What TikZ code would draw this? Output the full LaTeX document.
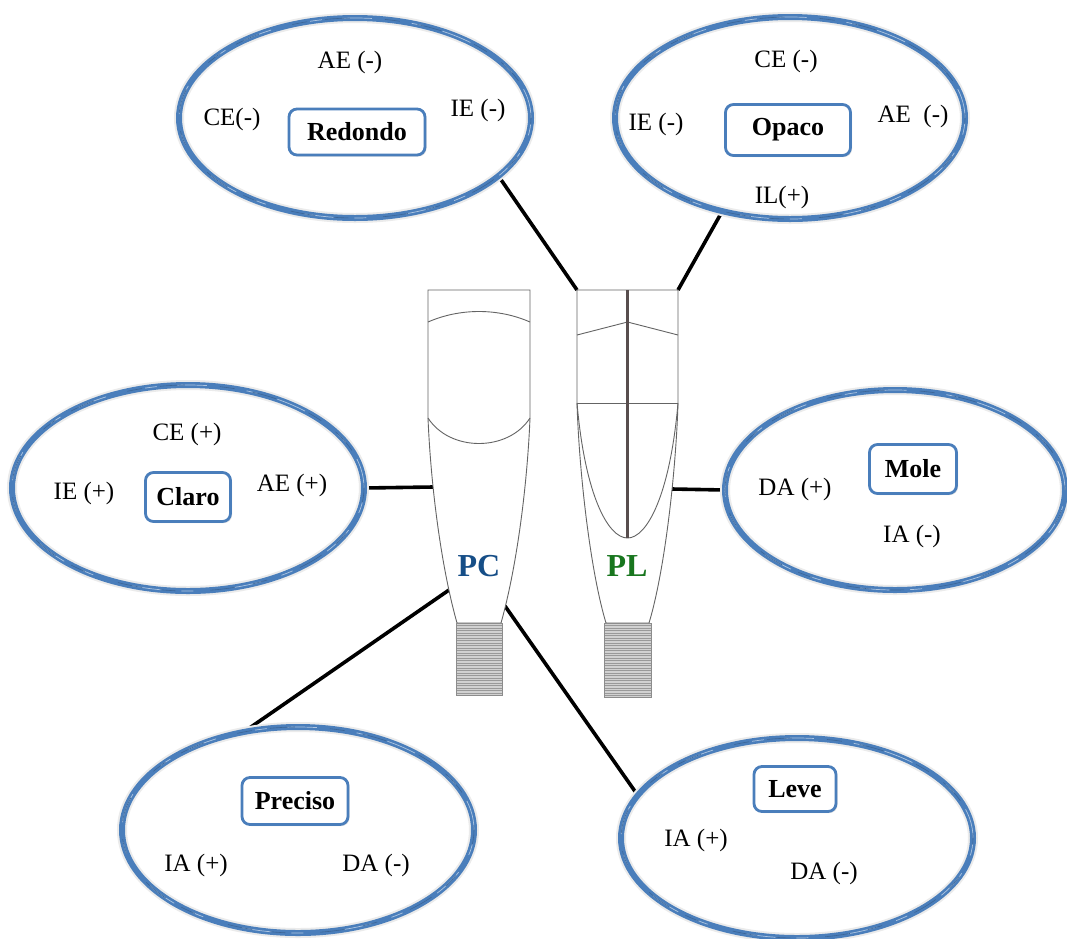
\documentclass[tikz,border=0pt]{standalone}
\usepackage{fontspec}
\setmainfont{Liberation Serif}
\usetikzlibrary{shapes.geometric,backgrounds,shadows}
\definecolor{ringblue}{RGB}{74,126,187}
\definecolor{pcblue}{RGB}{22,78,135}
\definecolor{plgreen}{RGB}{24,118,30}
\definecolor{reedgray}{RGB}{100,100,100}
\definecolor{spine}{RGB}{88,78,78}
\begin{document}
\begin{tikzpicture}[x=1pt,y=-1pt,
  ring/.style 2 args={ellipse, inner sep=0pt, outer sep=0pt,
    minimum width=#1pt, minimum height=#2pt,
    preaction={draw=black!8, line width=10pt},
    draw=ringblue, line width=6pt,
    postaction={draw=ringblue!45!white, line width=0.7pt,
      dash pattern=on 30pt off 20pt on 12pt off 40pt},
    postaction={draw=ringblue!80!black, line width=0.6pt,
      dash pattern=on 15pt off 35pt on 25pt off 18pt, dash phase=10pt}},
  tag/.style 2 args={draw=ringblue, line width=2.8pt, rounded corners=8pt,
    fill=white, minimum width=#1pt, minimum height=#2pt, inner sep=0pt,
    font=\fontsize{26}{30}\selectfont\bfseries,
    drop shadow={opacity=0.25, shadow xshift=1.5pt, shadow yshift=-1.5pt}},
  lbl/.style={font=\fontsize{25}{30}\selectfont, inner sep=0pt},
  reedname/.style={font=\fontsize{32}{36}\selectfont\bfseries, inner sep=0pt},
  link/.style={line width=3.6pt, black},
  reed/.style={draw=reedgray, line width=0.9pt},
  tube/.style={draw=black!45, line width=0.8pt, fill=black!18},
  hatch/.style={draw=black!40, line width=0.6pt}
]
\useasboundingbox (0,0) rectangle (1067,938);

% characteristic rings
\node[ring={352}{200}] (eR) at (355,118) {};
\node[ring={350}{202}] (eO) at (790,118) {};
\node[ring={352}{206}] (eC) at (188,488) {};
\node[ring={340}{200}] (eM) at (895,490) {};
\node[ring={352}{206}] (eP) at (298,830) {};
\node[ring={352}{200}] (eL) at (797,838) {};

% attachment points on the reeds
\coordinate (plTL) at (577,290);
\coordinate (plTR) at (678,290);
\coordinate (pcL)  at (433,487);
\coordinate (plR)  at (672,489);
\coordinate (pcLo) at (449,590);
\coordinate (pcR)  at (505,606);

\begin{scope}[on background layer]
  \fill[white] (0,0) rectangle (1067,938);
  \draw[link] (eR.-22.8) -- (plTL);
  \draw[link] (eO.-126.2) -- (plTR);
  \draw[link] (eC.east) -- (pcL);
  \draw[link] (eM.west) -- (plR);
  \draw[link] (eP.119.6) -- (pcLo);
  \draw[link] (eL.165.5) -- (pcR);
\end{scope}

% PC reed
\draw[reed, fill=white] (428,290) -- (530,290) -- (530,418)
  .. controls (527,490) and (516,570) .. (501,623) -- (457,623)
  .. controls (442,570) and (431,490) .. (428,418) -- cycle;
\draw[reed] (428,322) .. controls (460,308) and (498,308) .. (530,322);
\draw[reed] (428,418) .. controls (450,452) and (508,452) .. (530,418);
\draw[tube] (456,623) rectangle (502,695);
\foreach \h in {625.5,628,...,694} \draw[hatch] (456.5,\h) -- (501.5,\h);
\node[reedname, text=pcblue] (pcName) at (479,566) {PC};

% PL reed
\draw[reed, fill=white] (577,290) -- (678,290) -- (678,403)
  .. controls (676,470) and (665,570) .. (649,623) -- (606,623)
  .. controls (590,570) and (579,470) .. (577,403) -- cycle;
\draw[reed] (577,335) -- (627.5,322) -- (678,335);
\draw[reed] (577,403) -- (678,403);
\draw[reed] (577,403) .. controls (585,495) and (608,538) .. (627.5,538)
  .. controls (647,538) and (670,495) .. (678,403);
\draw[draw=spine, line width=2.2pt] (627.5,290) -- (627.5,538);
\draw[tube] (604,623) rectangle (651,697);
\foreach \h in {625.5,628,...,696} \draw[hatch] (604.5,\h) -- (650.5,\h);
\node[reedname, text=plgreen] (plName) at (627,566) {PL};

% Redondo
\node[tag={136}{46}] (bR) at (357,132) {Redondo};
\node[lbl] (rAE) at (350,62) {AE (-)};
\node[lbl] (rCE) at (232,119) {CE(-)};
\node[lbl] (rIE) at (478,110) {IE (-)};

% Opaco
\node[tag={125}{51}] (bO) at (788,130) {Opaco};
\node[lbl] (oCE) at (786,61) {CE (-)};
\node[lbl] (oIE) at (656,124) {IE (-)};
\node[lbl] (oAE) at (913,116) {AE\ \ (-)};
\node[lbl] (oIL) at (782,197) {IL(+)};

% Claro
\node[tag={85}{49}] (bC) at (188,497) {Claro};
\node[lbl] (cCE) at (187,434) {CE (+)};
\node[lbl] (cIE) at (84,493) {IE (+)};
\node[lbl] (cAE) at (292,485) {AE (+)};

% Mole
\node[tag={87}{49}] (bM) at (913,469) {Mole};
\node[lbl] (mDA) at (795,489) {DA (+)};
\node[lbl] (mIA) at (912,536) {IA (-)};

% Preciso
\node[tag={106}{47}] (bP) at (295,801) {Preciso};
\node[lbl] (pIA) at (196,865) {IA (+)};
\node[lbl] (pDA) at (376,865) {DA (-)};

% Leve
\node[tag={82}{45}] (bL) at (795,789) {Leve};
\node[lbl] (lIA) at (696,840) {IA (+)};
\node[lbl] (lDA) at (824,873) {DA (-)};
\end{tikzpicture}
\end{document}
